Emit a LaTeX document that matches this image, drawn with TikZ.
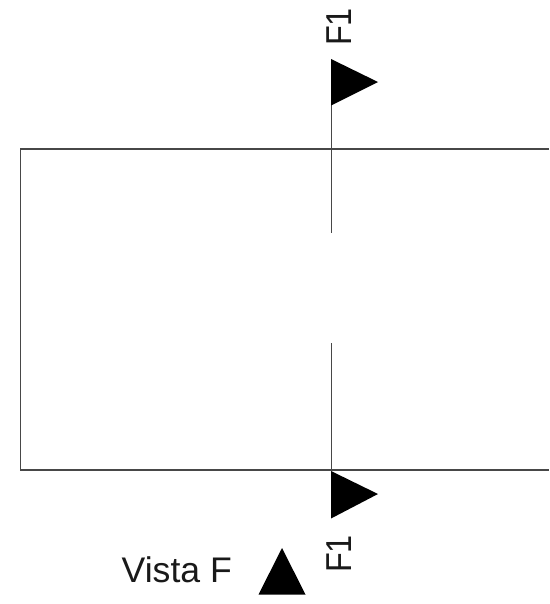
\documentclass[tikz,border=0pt]{standalone}
\usepackage{fontspec}
\setmainfont{Liberation Sans}
\tikzset{
  thinline/.style={draw=black!72,line width=1.3pt},
  flag/.style={fill=black,draw=none},
  lbl/.style={inner sep=0pt,text=black!90,font=\fontsize{35.6}{36}\selectfont},
  flbl/.style={inner sep=0pt,text=black!90,font=\fontsize{36}{36}\selectfont},
}
\begin{document}
\begin{tikzpicture}[x=1pt,y=-1pt]
\useasboundingbox (0,0) rectangle (549,604);
\fill[white] (0,0) rectangle (549,604);
% named points
\coordinate (tl) at (20.5,149);
\coordinate (tr) at (549,149);
\coordinate (bl) at (20.5,470);
\coordinate (br) at (549,470);
\coordinate (top) at (331.5,105);
\coordinate (upperEnd) at (331.5,233);
\coordinate (lowerEnd) at (331.5,343);
\coordinate (bottom) at (331.5,470);
% outline, open on the right
\draw[thinline] (tr) -- (tl) -- (bl) -- (br);
% section line
\draw[thinline] (top) -- (upperEnd);
\draw[thinline] (lowerEnd) -- (bottom);
% arrowheads
\fill[flag] (331,59) -- (378,82) -- (331,105.5) -- cycle;
\fill[flag] (331,471) -- (378,494) -- (331,518.5) -- cycle;
\fill[flag] (282,548) -- (305.5,594.5) -- (258.5,594.5) -- cycle;
% labels
\node[flbl,rotate=90] (f1top) at (339,27) {\scalebox{0.9}[1]{F1}};
\node[flbl,rotate=90] (f1bot) at (339,554) {\scalebox{0.9}[1]{F1}};
\node[lbl,anchor=base west] (vista) at (121.5,582) {Vista F};
\end{tikzpicture}
\end{document}
